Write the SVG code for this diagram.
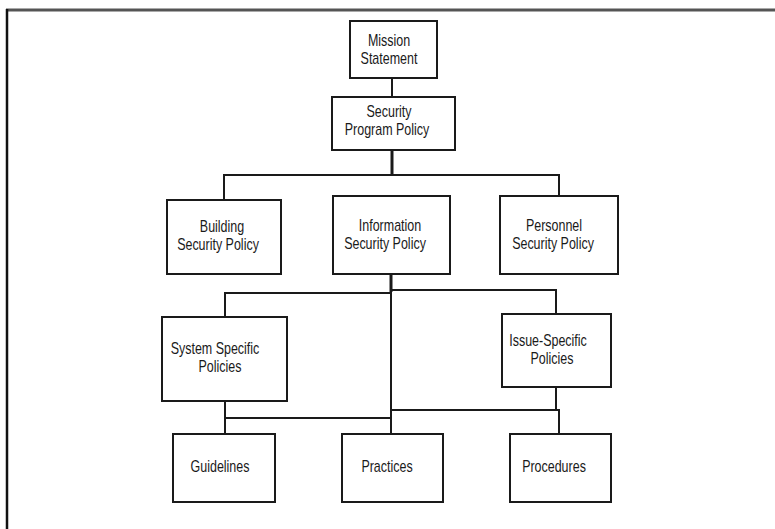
<svg xmlns="http://www.w3.org/2000/svg" width="775" height="529" viewBox="0 0 775 529">
<style>
.box{fill:#fff;stroke:#1a1a1a;stroke-width:2}
.lbl{font-family:"Liberation Sans",Arial,sans-serif;font-size:16px;fill:#1a1a1a;text-anchor:middle}
.ln{fill:none;stroke:#1a1a1a;stroke-width:2}
.thk{fill:none;stroke:#1a1a1a;stroke-width:3}
</style>
<rect x="0" y="0" width="775" height="529" fill="#fff"/>
<g id="frame">
<line x1="6" y1="10" x2="775" y2="10" stroke="#555" stroke-width="3"/>
<line x1="7" y1="9" x2="7" y2="529" stroke="#111" stroke-width="2.5"/>
</g>
<g id="connectors">
<path class="ln" d="M392,78 V97"/>
<path class="thk" d="M392,150 V175"/>
<path class="ln" d="M224,200 V175 H559 V196"/>
<path class="thk" d="M391,274 V292"/>
<path class="ln" d="M225,317 V293 H391"/>
<path class="ln" d="M391,290 H556 V314"/>
<path class="ln" d="M391,290 V434"/>
<path class="ln" d="M225,401 V434"/>
<path class="ln" d="M225,418 H391"/>
<path class="ln" d="M556,387 V410 H391"/>
<path class="ln" d="M556,410 H559 V434"/>
</g>
<g id="mission">
<rect class="box" x="350" y="21" width="87" height="57"/>
<text class="lbl" transform="translate(389,46) scale(0.78,1)">Mission</text>
<text class="lbl" transform="translate(389,64) scale(0.78,1)">Statement</text>
</g>
<g id="security-program">
<rect class="box" x="332" y="97" width="123" height="53"/>
<text class="lbl" transform="translate(389,117) scale(0.78,1)">Security</text>
<text class="lbl" transform="translate(387,135) scale(0.78,1)">Program Policy</text>
</g>
<g id="building">
<rect class="box" x="167" y="200" width="114" height="74"/>
<text class="lbl" transform="translate(222,232) scale(0.78,1)">Building</text>
<text class="lbl" transform="translate(218,250) scale(0.78,1)">Security Policy</text>
</g>
<g id="information">
<rect class="box" x="333" y="196" width="117" height="78"/>
<text class="lbl" transform="translate(390,231) scale(0.78,1)">Information</text>
<text class="lbl" transform="translate(385,249) scale(0.78,1)">Security Policy</text>
</g>
<g id="personnel">
<rect class="box" x="500" y="196" width="118" height="78"/>
<text class="lbl" transform="translate(554,231) scale(0.78,1)">Personnel</text>
<text class="lbl" transform="translate(553,249) scale(0.78,1)">Security Policy</text>
</g>
<g id="system-specific">
<rect class="box" x="162" y="317" width="125" height="84"/>
<text class="lbl" transform="translate(215,354) scale(0.78,1)">System Specific</text>
<text class="lbl" transform="translate(220,372) scale(0.78,1)">Policies</text>
</g>
<g id="issue-specific">
<rect class="box" x="502" y="314" width="109" height="73"/>
<text class="lbl" transform="translate(548,346) scale(0.78,1)">Issue-Specific</text>
<text class="lbl" transform="translate(552,364) scale(0.78,1)">Policies</text>
</g>
<g id="guidelines">
<rect class="box" x="173" y="434" width="102" height="68"/>
<text class="lbl" transform="translate(220,472) scale(0.78,1)">Guidelines</text>
</g>
<g id="practices">
<rect class="box" x="342" y="434" width="101" height="68"/>
<text class="lbl" transform="translate(387,472) scale(0.78,1)">Practices</text>
</g>
<g id="procedures">
<rect class="box" x="510" y="434" width="101" height="68"/>
<text class="lbl" transform="translate(554,472) scale(0.78,1)">Procedures</text>
</g>
</svg>
